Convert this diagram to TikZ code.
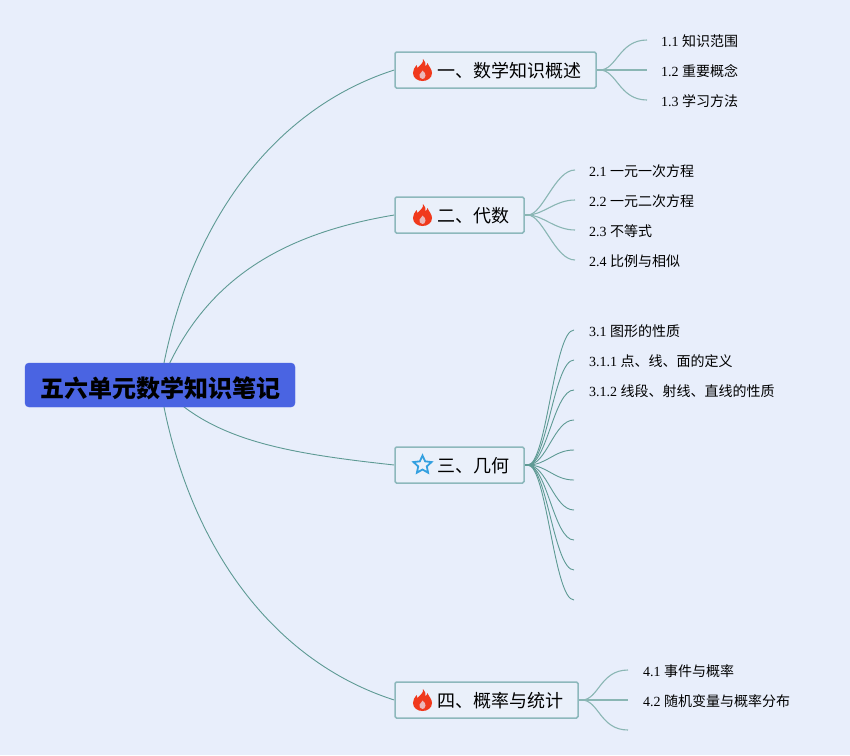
\documentclass[tikz,border=0pt]{standalone}
\usepackage{fontspec}
\setmainfont{Liberation Serif}
\newfontfamily\cjk{Noto Sans CJK SC}
\usetikzlibrary{backgrounds,shapes.geometric}
\definecolor{bgc}{HTML}{E8EEFB}
\definecolor{rootc}{HTML}{4A64E2}
\definecolor{boxline}{HTML}{8DB8BC}
\definecolor{boxfill}{HTML}{EAF0FA}
\definecolor{linkc}{HTML}{5E9A94}
\definecolor{linkl}{HTML}{8AB6B4}
\definecolor{flame}{HTML}{F0391C}
\definecolor{starc}{HTML}{33A0E0}
\newcommand{\mainlabel}[1]{\hspace*{27pt}#1}
\tikzset{
  rootbox/.style={fill=rootc,draw=rootc,rounded corners=4pt,minimum width=270pt,minimum height=44pt,inner sep=0pt,text height=24.2pt,text depth=0pt,font=\cjk\fontsize{24}{24}\selectfont\bfseries,text=black},
  mainbox/.style={fill=boxfill,draw=boxline,line width=1.5pt,rounded corners=1.5pt,minimum height=36pt,inner sep=0pt,text height=15.7pt,text depth=0pt,font=\cjk\fontsize{18}{18}\selectfont,text=black},
  leaf/.style={anchor=west,inner sep=0pt,font=\fontsize{14}{14}\selectfont,text=black},
  major/.style={draw=linkc,line width=0.9pt},
  minor/.style={draw=linkl,line width=1.1pt},
  stub/.style={draw=linkc,line width=2pt},
  stubl/.style={draw=linkl,line width=2pt},
  thin link/.style={draw=linkc,line width=0.9pt},
  staricon/.style={star,star points=5,star point ratio=2.1,draw=starc,line width=1.8pt,minimum size=19pt,inner sep=0pt},
  pics/flameicon/.style={code={
    \begin{scope}[yscale=-1]
    \fill[flame] (0.5,11) .. controls (1.5,7) and (-3,4.5) .. (-5,2)
      .. controls (-5.5,3) and (-6,4) .. (-6,5)
      .. controls (-8,3) and (-9.5,-0.5) .. (-9.5,-3)
      .. controls (-9.5,-8) and (-5,-11) .. (0,-11)
      .. controls (5,-11) and (9.5,-8) .. (9.5,-3)
      .. controls (9.5,1) and (6,4) .. (5,7)
      .. controls (4.5,5.5) and (4,4.5) .. (3,4)
      .. controls (3.5,6.5) and (2.5,9) .. (0.5,11) -- cycle;
    \fill[bgc!70!flame] (0,-9) .. controls (-2.5,-9) and (-3.5,-6.5) .. (-3,-4.5)
      .. controls (-2,-3) and (-0.5,-2) .. (0,-0.5)
      .. controls (1.5,-2) and (3.5,-3.5) .. (3,-5.5)
      .. controls (2.7,-8) and (1.5,-9) .. (0,-9) -- cycle;
    \end{scope}
  }}
}
\begin{document}
\begin{tikzpicture}[x=1pt,y=-1pt]
\useasboundingbox (0,0) rectangle (850,755);
\node[rootbox] (root) at (160,385) {五六单元数学知识笔记};
\node[mainbox,minimum width=201pt] (m1) at (495.5,70) {\mainlabel{一、数学知识概述}};
\node[mainbox,minimum width=129pt] (m2) at (459.5,215) {\mainlabel{二、代数}};
\node[mainbox,minimum width=129pt] (m3) at (459.5,465) {\mainlabel{三、几何}};
\node[mainbox,minimum width=183pt] (m4) at (486.5,700) {\mainlabel{四、概率与统计}};
\pic at (422.5,70) {flameicon};
\pic at (422.5,215) {flameicon};
\pic at (422.5,700) {flameicon};
\node[staricon] (s3) at (422.5,465) {};

\node[leaf] (l11) at (661,41) {1.1 {\cjk 知识范围}};
\node[leaf] (l12) at (661,71) {1.2 {\cjk 重要概念}};
\node[leaf] (l13) at (661,101) {1.3 {\cjk 学习方法}};
\node[leaf] (l21) at (589,171) {2.1 {\cjk 一元一次方程}};
\node[leaf] (l22) at (589,201) {2.2 {\cjk 一元二次方程}};
\node[leaf] (l23) at (589,231) {2.3 {\cjk 不等式}};
\node[leaf] (l24) at (589,261) {2.4 {\cjk 比例与相似}};
\node[leaf] (l31) at (589,331) {3.1 {\cjk 图形的性质}};
\node[leaf] (l32) at (589,361) {3.1.1 {\cjk 点、线、面的定义}};
\node[leaf] (l33) at (589,391) {3.1.2 {\cjk 线段、射线、直线的性质}};
\node[leaf] (l41) at (643,671) {4.1 {\cjk 事件与概率}};
\node[leaf] (l42) at (643,701) {4.2 {\cjk 随机变量与概率分布}};

\coordinate (e11) at (647,40);
\coordinate (e12) at (647,70);
\coordinate (e13) at (647,100);
\coordinate (e21) at (575,170);
\coordinate (e22) at (575,200);
\coordinate (e23) at (575,230);
\coordinate (e24) at (575,260);
\coordinate (e31) at (574,330);
\coordinate (e32) at (574,360);
\coordinate (e33) at (574,390);
\coordinate (e34) at (574,420);
\coordinate (e35) at (574,450);
\coordinate (e36) at (574,480);
\coordinate (e37) at (574,510);
\coordinate (e38) at (574,540);
\coordinate (e39) at (574,570);
\coordinate (e30) at (574,600);
\coordinate (e41) at (628,670);
\coordinate (e42) at (628,700);
\coordinate (e43) at (628,730);

\begin{scope}[on background layer]
\fill[bgc] (0,0) rectangle (850,755);
\draw[major] (root.center) .. controls +(25,-155) and +(-125,40) .. (m1.west);
\draw[major] (root.center) .. controls +(40,-100) and +(-120,20) .. (m2.west);
\draw[major] (root.center) .. controls +(50,55) and +(-110,-12) .. (m3.west);
\draw[major] (root.center) .. controls +(25,155) and +(-125,-40) .. (m4.west);
\draw[stubl] (m1.east) -- +(7,0);
\draw[stubl] (m2.east) -- +(7,0);
\draw[stub] (m3.east) -- +(7,0);
\draw[stubl] (m4.east) -- +(7,0);
\foreach \e in {e11,e12,e13}
  \draw[minor] (m1.east) ++(3,0) .. controls +(17,0) and +(-28,0) .. (\e);
\foreach \e in {e21,e22,e23,e24}
  \draw[minor] (m2.east) ++(3,0) .. controls +(15,0) and +(-20,0) .. (\e);
\foreach \e in {e31,e32,e33,e34,e35,e36,e37,e38,e39,e30}
  \draw[thin link] (m3.east) ++(3,0) .. controls +(19,0) and +(-20,0) .. (\e);
\foreach \e in {e41,e42,e43}
  \draw[minor] (m4.east) ++(3,0) .. controls +(17,0) and +(-28,0) .. (\e);
\end{scope}
\end{tikzpicture}
\end{document}
